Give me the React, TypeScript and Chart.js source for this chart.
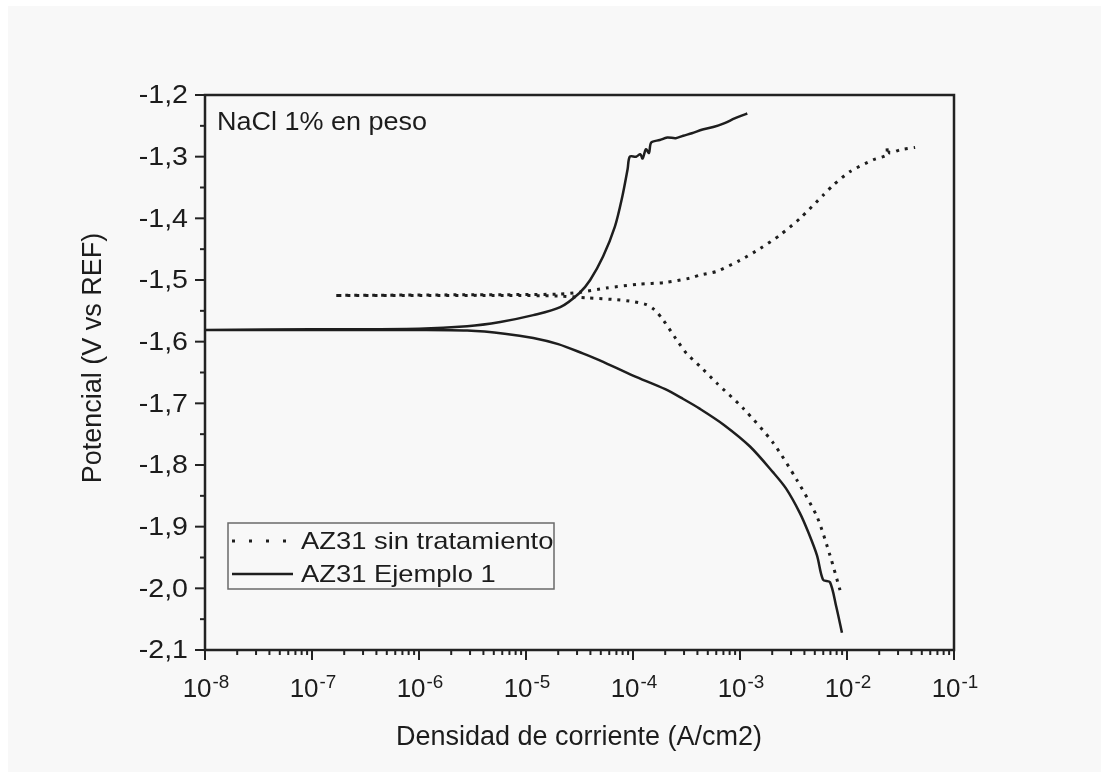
import React, { useEffect, useRef } from "react";
import { Chart, registerables } from "chart.js";

Chart.register(...registerables);

// AZ31 sin tratamiento (dotted) – current density (A/cm2) and potential (V)
const sinCurrent = [
  8.61e-3, 6.92e-3, 5.25e-3, 3.39e-3, 2.04e-3, 1.07e-3, 6.05e-4, 4.23e-4, 3.16e-4, 2.51e-4,
  1.92e-4, 1.58e-4, 1.34e-4, 1.0e-4, 7.08e-5, 3.72e-5, 2.0e-5, 6.31e-6, 1.0e-6, 1.62e-7,
  2.51e-6, 2.0e-5, 3.16e-5, 5.62e-5, 1.12e-4, 2.0e-4, 3.41e-4, 4.23e-4, 6.05e-4, 1.0e-3,
  1.54e-3, 2.37e-3, 3.64e-3, 6.03e-3, 7.45e-3, 1.07e-2, 1.76e-2, 2.35e-2, 2.37e-2, 2.51e-2,
  3.13e-2, 4.33e-2,
];
const sinPotential = [
  -2.003, -1.946, -1.884, -1.824, -1.764, -1.708, -1.667, -1.64, -1.619, -1.595,
  -1.565, -1.548, -1.54, -1.535, -1.532, -1.529, -1.526, -1.525, -1.525, -1.525,
  -1.524, -1.523, -1.52, -1.513, -1.507, -1.504, -1.497, -1.492, -1.486, -1.468,
  -1.449, -1.427, -1.4, -1.362, -1.346, -1.324, -1.305, -1.297, -1.284, -1.294,
  -1.289, -1.285,
];

// AZ31 Ejemplo 1 (solid)
const ej1Current = [
  8.97e-3, 7.94e-3, 6.93e-3, 5.97e-3, 5.25e-3, 4.37e-3, 3.63e-3, 2.69e-3, 2.04e-3, 1.24e-3,
  7.08e-4, 4.23e-4, 2.95e-4, 2.0e-4, 1.0e-4, 5.01e-5, 3.39e-5, 2.0e-5, 1.17e-5, 6.31e-6,
  2.82e-6, 1.0e-6, 1.0e-7, 1.0e-8,
  1.0e-7, 1.0e-6, 2.82e-6, 5.75e-6, 1.17e-5, 2.09e-5, 3.16e-5, 3.98e-5, 5.25e-5, 6.76e-5,
  7.94e-5, 8.91e-5, 9.33e-5, 1.07e-4, 1.17e-4, 1.23e-4, 1.32e-4, 1.41e-4, 1.48e-4, 1.78e-4,
  2.09e-4, 2.51e-4, 2.95e-4, 3.55e-4, 4.47e-4, 5.62e-4, 7.08e-4, 8.91e-4, 1.05e-3, 1.17e-3,
];
const ej1Potential = [
  -2.072, -2.03, -1.99, -1.986, -1.947, -1.91, -1.878, -1.838, -1.812, -1.77,
  -1.735, -1.709, -1.693, -1.677, -1.655, -1.631, -1.619, -1.604, -1.594, -1.587,
  -1.582, -1.581, -1.581, -1.581,
  -1.58, -1.579, -1.575, -1.568, -1.557, -1.544, -1.521, -1.5, -1.462, -1.414,
  -1.365, -1.32, -1.3, -1.3, -1.296, -1.303, -1.288, -1.294, -1.277, -1.273,
  -1.269, -1.27, -1.266, -1.262, -1.256, -1.252, -1.246, -1.238, -1.233, -1.23,
];

const xTickExponents = [-8, -7, -6, -5, -4, -3, -2, -1];
const yTickValues = [-1.2, -1.3, -1.4, -1.5, -1.6, -1.7, -1.8, -1.9, -2.0, -2.1];

const seriesLabels = ["AZ31 sin tratamiento", "AZ31 Ejemplo 1"];
const annotationText = "NaCl 1% en peso";
const xTitle = "Densidad de corriente (A/cm2)";
const yTitle = "Potencial (V vs REF)";

const TEXT = "#1c1c1c";
const LINE = "#1e1e1e";
const FONT = "'Liberation Sans', Arial, sans-serif";

function sText(
  ctx: CanvasRenderingContext2D,
  text: string,
  x: number,
  y: number,
  size: number,
  align: CanvasTextAlign,
  baseline: CanvasTextBaseline,
  sx = 1
) {
  ctx.save();
  ctx.translate(x, y);
  ctx.scale(sx, 1);
  ctx.font = `${size}px ${FONT}`;
  ctx.fillStyle = TEXT;
  ctx.textAlign = align;
  ctx.textBaseline = baseline;
  ctx.fillText(text, 0, 0);
  ctx.restore();
}

function seg(ctx: CanvasRenderingContext2D, x1: number, y1: number, x2: number, y2: number) {
  ctx.beginPath();
  ctx.moveTo(x1, y1);
  ctx.lineTo(x2, y2);
  ctx.stroke();
}

const decor = {
  id: "decor",
  beforeDraw(chart: any) {
    const { ctx, width, height } = chart;
    ctx.save();
    ctx.fillStyle = "#ffffff";
    ctx.fillRect(0, 0, width, height);
    ctx.fillStyle = "#f8f8f8";
    ctx.fillRect(8, 6, width - 8, height - 6);
    ctx.restore();
  },
  afterDraw(chart: any) {
    const { ctx, chartArea: a, scales } = chart;
    const xs = scales.x;
    const ys = scales.y;
    ctx.save();
    ctx.strokeStyle = "#222";
    ctx.lineCap = "butt";

    // frame
    ctx.lineWidth = 2.5;
    ctx.strokeRect(a.left, a.top, a.right - a.left, a.bottom - a.top);

    // y ticks + labels
    ctx.lineWidth = 2;
    yTickValues.forEach((v, i) => {
      const py = ys.getPixelForValue(v);
      seg(ctx, a.left - 10, py, a.left, py);
      if (i < yTickValues.length - 1) {
        const pm = ys.getPixelForValue((v + yTickValues[i + 1]) / 2);
        seg(ctx, a.left - 5, pm, a.left, pm);
      }
      sText(ctx, v.toFixed(1).replace(".", ","), 188, py + 1, 26, "right", "middle", 1.1);
    });

    // x ticks + labels
    xTickExponents.forEach((e, i) => {
      const base = Math.pow(10, e);
      const px = xs.getPixelForValue(base);
      seg(ctx, px, a.bottom, px, a.bottom + 10);
      if (i < xTickExponents.length - 1) {
        for (let k = 2; k <= 9; k++) {
          const pm = xs.getPixelForValue(k * base);
          seg(ctx, pm, a.bottom, pm, a.bottom + 5);
        }
      }
      ctx.save();
      ctx.font = `26px ${FONT}`;
      const wBase = ctx.measureText("10").width;
      ctx.font = `18px ${FONT}`;
      const wExp = ctx.measureText(String(e)).width * 1.05;
      ctx.restore();
      const total = wBase + 1 + wExp;
      const left = px - total / 2 + 1;
      sText(ctx, "10", left, 697, 26, "left", "alphabetic");
      sText(ctx, String(e), left + wBase + 1, 688, 18, "left", "alphabetic", 1.05);
    });

    // axis titles
    sText(ctx, xTitle, 579, 745, 27, "center", "alphabetic");
    ctx.save();
    ctx.translate(101, 358);
    ctx.rotate(-Math.PI / 2);
    ctx.font = `27px ${FONT}`;
    ctx.fillStyle = TEXT;
    ctx.textAlign = "center";
    ctx.textBaseline = "alphabetic";
    ctx.fillText(yTitle, 0, 0);
    ctx.restore();

    // annotation
    sText(ctx, annotationText, 217, 130, 25, "left", "alphabetic", 1.08);

    // legend
    ctx.fillStyle = "#f8f8f8";
    ctx.fillRect(228, 523, 326, 66);
    ctx.strokeStyle = "#6a6a6a";
    ctx.lineWidth = 1.5;
    ctx.strokeRect(228, 523, 326, 66);
    const ds = chart.data.datasets;
    ctx.strokeStyle = LINE;
    ctx.lineWidth = 3;
    ctx.setLineDash([3, 14]);
    seg(ctx, 232, 541, 292, 541);
    ctx.setLineDash([]);
    sText(ctx, ds[0].label, 301, 542, 24, "left", "middle", 1.14);
    ctx.lineWidth = 2.5;
    seg(ctx, 232, 574, 293, 574);
    sText(ctx, ds[1].label, 301, 575, 24, "left", "middle", 1.14);

    ctx.restore();
  },
};

export default function App() {
  const ref = useRef<HTMLCanvasElement | null>(null);

  useEffect(() => {
    if (!ref.current) return;
    const sinData = sinCurrent.map((c, i) => ({ x: c, y: sinPotential[i] }));
    const ej1Data = ej1Current.map((c, i) => ({ x: c, y: ej1Potential[i] }));
    const chart = new Chart(ref.current, {
      type: "scatter",
      data: {
        datasets: [
          {
            label: seriesLabels[0],
            data: sinData,
            showLine: true,
            borderColor: LINE,
            borderWidth: 3,
            borderDash: [3, 6],
            pointRadius: 0,
            tension: 0.25,
          },
          {
            label: seriesLabels[1],
            data: ej1Data,
            showLine: true,
            borderColor: LINE,
            borderWidth: 2.5,
            pointRadius: 0,
            tension: 0.3,
          },
        ],
      },
      options: {
        responsive: false,
        animation: false,
        devicePixelRatio: 1,
        layout: { padding: { left: 205, top: 95, right: 147, bottom: 122 } },
        plugins: { legend: { display: false }, tooltip: { enabled: false }, title: { display: false } },
        scales: {
          x: { type: "logarithmic", min: 1e-8, max: 1e-1, display: false },
          y: { type: "linear", min: -2.1, max: -1.2, display: false },
        },
      },
      plugins: [decor],
    });
    return () => chart.destroy();
  }, []);

  return (
    <div style={{ position: "fixed", left: 0, top: 0, width: 1101, height: 772 }}>
      <canvas ref={ref} width={1101} height={772} style={{ width: 1101, height: 772, display: "block" }} />
    </div>
  );
}
